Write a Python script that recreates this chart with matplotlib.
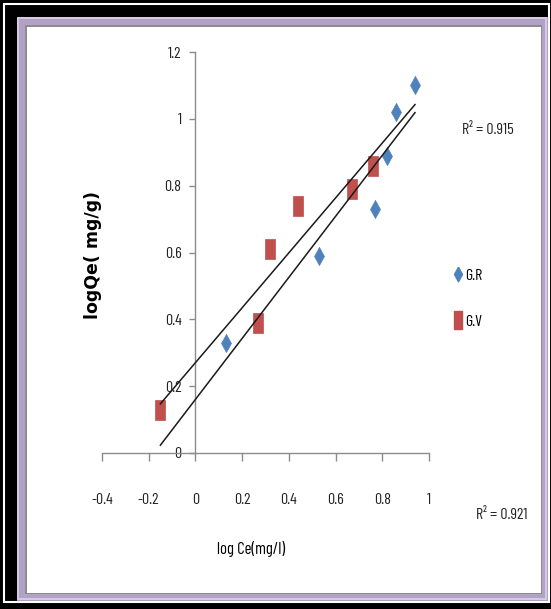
import matplotlib
matplotlib.use("Agg")
import matplotlib.pyplot as plt
import numpy as np
from matplotlib.patches import Rectangle
from matplotlib.lines import Line2D
from matplotlib import font_manager

# ---------------- data ----------------
gr_x = [0.13, 0.53, 0.77, 0.82, 0.86, 0.94]
gr_y = [0.33, 0.59, 0.73, 0.89, 1.02, 1.10]
gv_x = [-0.15, 0.27, 0.32, 0.44, 0.67, 0.76]
gv_y = [0.13, 0.39, 0.61, 0.74, 0.79, 0.86]
series_labels = ["G.R", "G.V"]
x_ticks = [-0.4, -0.2, 0, 0.2, 0.4, 0.6, 0.8, 1]
x_tick_labels = ["-0.4", "-0.2", "0", "0.2", "0.4", "0.6", "0.8", "1"]
y_ticks = [0, 0.2, 0.4, 0.6, 0.8, 1, 1.2]
y_tick_labels = ["0", "0.2", "0.4", "0.6", "0.8", "1", "1.2"]
r2_labels = ["R\u00b2 = 0.915", "R\u00b2 = 0.921"]

# ---------------- fonts ----------------
avail = {f.name for f in font_manager.fontManager.ttflist}
narrow = "DejaVu Sans"
for cand in ["Barlow Condensed", "Archivo Narrow", "Roboto Condensed", "DejaVu Sans Condensed"]:
    if cand in avail:
        narrow = cand
        break
NF = [narrow, "DejaVu Sans"]
FS = 11.5

W, H = 551, 609
fig = plt.figure(figsize=(W / 100, H / 100), dpi=100)
fig.patch.set_facecolor("black")


def rect_px(x0, y0, x1, y1, **kw):
    r = Rectangle((x0 / W, 1 - y1 / H), (x1 - x0) / W, (y1 - y0) / H,
                  transform=fig.transFigure, **kw)
    fig.add_artist(r)
    return r


# frame
rect_px(4, 4, 549, 602, facecolor="none", edgecolor="white", linewidth=1.5, zorder=0)
rect_px(17, 17, 548, 601, facecolor="#B3A2C7", edgecolor="none", zorder=0)
rect_px(18, 18, 546, 599, facecolor="none", edgecolor="#DCD3E8", linewidth=1.2, zorder=0)
rect_px(25, 25, 542, 594, facecolor="#8C8C8C", edgecolor="none", zorder=0)
rect_px(27, 27, 541, 593, facecolor="white", edgecolor="none", zorder=0)

# axes: x -0.4..1.0 -> px 102..429 ; y 0..1.2 -> px 453..52
ax = fig.add_axes([102 / W, 1 - 453 / H, (429 - 102) / W, (453 - 52) / H])
ax.set_facecolor("none")
ax.set_xlim(-0.4, 1.0)
ax.set_ylim(0, 1.2)

for s in ["top", "right"]:
    ax.spines[s].set_visible(False)
ax.spines["left"].set_position(("data", 0))
ax.spines["bottom"].set_position(("data", 0))
for s in ["left", "bottom"]:
    ax.spines[s].set_color("#8C8C8C")
    ax.spines[s].set_linewidth(1.0)

ax.set_xticks(x_ticks)
ax.set_xticklabels(x_tick_labels, fontfamily=NF, fontsize=FS)
ax.set_yticks(y_ticks)
ax.set_yticklabels(y_tick_labels, fontfamily=NF, fontsize=FS)
ax.tick_params(axis="x", direction="out", length=6, width=1, color="#8C8C8C", pad=23, labelcolor="#222222")
ax.tick_params(axis="y", direction="out", length=4, width=1, color="#8C8C8C", pad=6, labelcolor="#222222")

diamond = [(0, 1), (0.55, 0), (0, -1), (-0.55, 0), (0, 1)]
square = [(-0.5, -1), (0.5, -1), (0.5, 1), (-0.5, 1), (-0.5, -1)]
blue = "#4F81BD"
red = "#C0504D"

ax.plot(gr_x, gr_y, linestyle="none", marker=diamond, markersize=13,
        markerfacecolor=blue, markeredgecolor=blue, markeredgewidth=0.5, zorder=3, clip_on=False)
ax.plot(gv_x, gv_y, linestyle="none", marker=square, markersize=14.5,
        markerfacecolor=red, markeredgecolor=red, markeredgewidth=0.5, zorder=3, clip_on=False)

# linear trendlines
all_x = np.array(gr_x + gv_x)
xs = np.array([all_x.min(), all_x.max()])
for xx, yy in [(gv_x, gv_y), (gr_x, gr_y)]:
    k, b = np.polyfit(xx, yy, 1)
    ax.plot(xs, k * xs + b, color="#1a1a1a", linewidth=1.1, zorder=4, clip_on=False)

# legend
handles = [
    Line2D([], [], linestyle="none", marker=diamond, markersize=10.5,
           markerfacecolor=blue, markeredgecolor=blue),
    Line2D([], [], linestyle="none", marker=square, markersize=12.5,
           markerfacecolor=red, markeredgecolor=red),
]
fig.legend(handles, series_labels, loc="center left",
           bbox_to_anchor=(446 / W, 1 - 298.5 / H), bbox_transform=fig.transFigure,
           frameon=False, borderpad=0, handlelength=0.55, handletextpad=0.15,
           labelspacing=2.0, prop={"family": NF, "size": FS})

# R^2 labels
fig.text(462 / W, 1 - 130 / H, r2_labels[0], fontfamily=NF, fontsize=FS,
         ha="left", va="center", color="#222222")
fig.text(476 / W, 1 - 515 / H, r2_labels[1], fontfamily=NF, fontsize=FS,
         ha="left", va="center", color="#222222")

# axis titles
fig.text(93 / W, 1 - 255 / H, "logQe( mg/g)", fontfamily=["DejaVu Sans"], fontweight="bold",
         fontsize=12.5, rotation=90, ha="center", va="center", color="black")
fig.text(251 / W, 1 - 549 / H, "log Ce(mg/l)", fontfamily=NF, fontsize=12,
         ha="center", va="center", color="black")

fig.savefig("out.png", dpi=100, facecolor=fig.get_facecolor())
